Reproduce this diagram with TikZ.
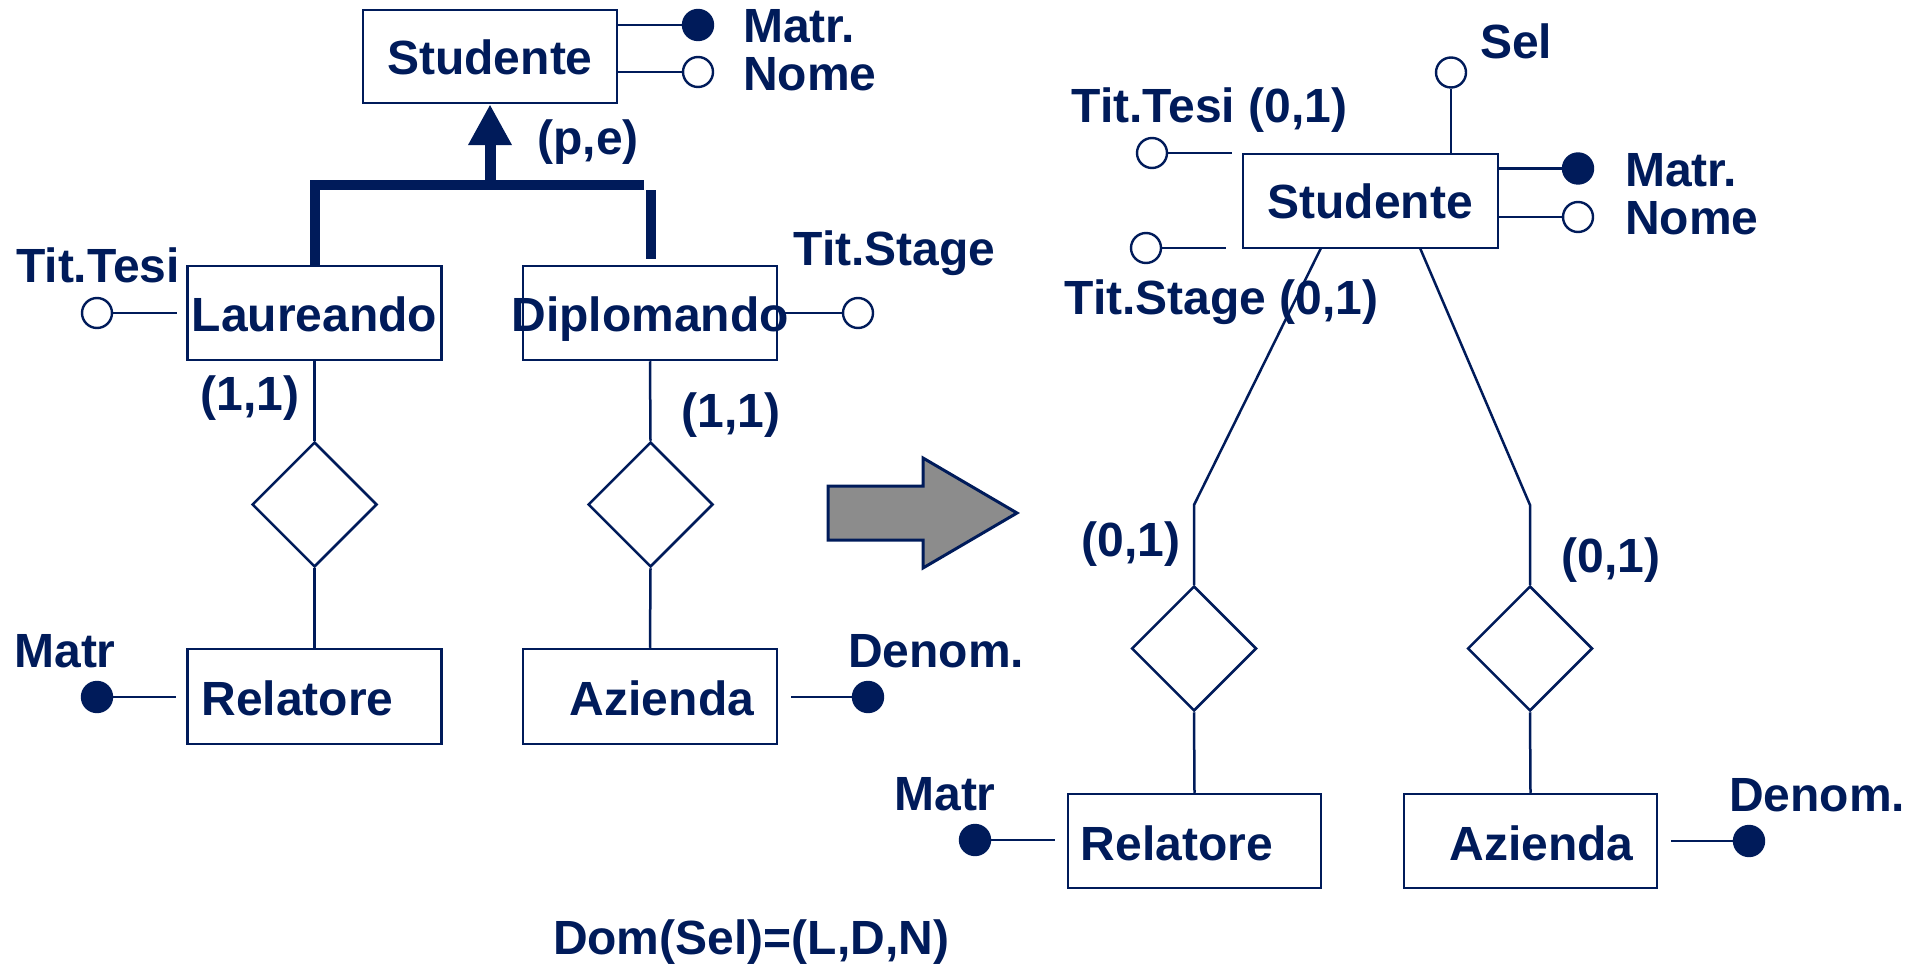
\documentclass[tikz,border=0pt]{standalone}
\usepackage{fontspec}
\setmainfont{Liberation Sans}
\usetikzlibrary{shapes.geometric,arrows.meta}
\definecolor{navy}{RGB}{0,27,90}
\definecolor{arrowgray}{RGB}{140,140,140}
\begin{document}
\begin{tikzpicture}[x=1pt,y=-1pt,
  ebox/.style={draw=navy, line width=2.5pt, rectangle, inner sep=0pt},
  rel/.style={draw=navy, line width=2.5pt, diamond, inner sep=0pt, minimum width=125pt, minimum height=125pt},
  lbl/.style={text=navy, font=\fontsize{48}{53}\selectfont\bfseries, inner sep=0pt, anchor=base},
  lblw/.style={lbl, anchor=base west},
  conn/.style={draw=navy, line width=2.5pt},
  attr/.style={circle, draw=navy, line width=2.4pt, minimum size=30pt, inner sep=0pt, fill=white},
  key/.style={attr, fill=navy},
  isa/.style={draw=navy, line width=10pt},
]
\useasboundingbox (0,0) rectangle (1924,965);

% ---------------- left schema ----------------
\node[ebox, minimum width=254pt, minimum height=93pt] (studL) at (490,56.5) {};
\node[ebox, minimum width=254pt, minimum height=94pt] (laur) at (314.5,313) {};
\node[ebox, minimum width=254pt, minimum height=94pt] (dipl) at (650,313) {};
\node[rel] (rL1) at (314.5,504.5) {};
\node[rel] (rL2) at (650.5,504.5) {};
\node[ebox, minimum width=254pt, minimum height=95pt] (relatL) at (314.5,696.5) {};
\node[ebox, minimum width=254pt, minimum height=95pt] (aziL) at (650,696.5) {};

\node[key]  (matrL)  at (698,25) {};
\node[attr] (nomeL)  at (698,72) {};
\node[attr] (tesiL)  at (97,313) {};
\node[attr] (stageL) at (858,313) {};
\node[key]  (matrRelL) at (97,697) {};
\node[key]  (denomL) at (868,697) {};

\draw[conn] (studL.east |- matrL) -- (matrL.west);
\draw[conn] (studL.east |- nomeL) -- (nomeL.west);
\coordinate (tesiLend) at (177,313);
\draw[conn] (tesiL.east) -- (tesiLend);
\coordinate (stageLbeg) at (784,313);
\draw[conn] (stageLbeg) -- (stageL.west);
\coordinate (matrLend) at (176,697);
\draw[conn] (matrRelL.east) -- (matrLend);
\coordinate (denomLbeg) at (791,697);
\draw[conn] (denomLbeg) -- (denomL.west);

\draw[conn] (laur.south) -- (rL1.north);
\draw[conn] (rL1.south) -- (relatL.north);
\draw[conn] (dipl.south) -- (rL2.north);
\draw[conn] (rL2.south) -- (aziL.north);

% generalization
\coordinate (isaL) at (315,185);
\coordinate (isaR) at (644,185);
\coordinate (isaM) at (490,185);
\coordinate (isaRt) at (650.5,190);
\coordinate (laurTop) at (315,266);
\coordinate (diplTop) at (650.5,259);
\draw[isa, line join=miter] (laurTop) -- (isaL) -- (isaR);
\draw[isa] (diplTop) -- (isaRt);
\draw[draw=navy, line width=11pt, -{Triangle[width=41pt,length=41pt]}] (isaM) -- (studL.south);

\node[lbl] (tStudL) at (490,75) {Studente};
\node[lblw] (tMatrL) at (743,43) {Matr.};
\node[lblw] (tNomeL) at (743,91) {Nome};
\node[lbl] (tPE) at (588,155) {(p,e)};
\node[lbl] (tTesiL) at (98,283) {Tit.Tesi};
\node[lbl] (tLaur) at (314.5,332) {Laureando};
\node[lbl] (tDipl) at (650,332) {Diplomando};
\node[lbl] (tStageL) at (894.5,266) {Tit.Stage};
\node[lbl] (tC1) at (250,410) {(1,1)};
\node[lbl] (tC2) at (731,427) {(1,1)};
\node[lbl] (tRelL) at (297.5,715) {Relatore};
\node[lbl] (tAziL) at (662,715) {Azienda};
\node[lbl] (tMatrRL) at (65,667) {Matr};
\node[lbl] (tDenomL) at (936,667) {Denom.};
\node[lbl] (tDom) at (751,954) {Dom(Sel)=(L,D,N)};

% ---------------- transformation arrow ----------------
\draw[navy, line width=3pt, fill=arrowgray, line join=miter]
  (828,486) -- (923,486) -- (923,458) -- (1017,513) -- (923,568) -- (923,540) -- (828,540) -- cycle;

% ---------------- right schema ----------------
\node[ebox, minimum width=255pt, minimum height=94pt] (studR) at (1370.5,201) {};
\node[rel] (rR1) at (1194,648.5) {};
\node[rel] (rR2) at (1530,648.5) {};
\node[ebox, minimum width=253pt, minimum height=94pt] (relatR) at (1194.5,841) {};
\node[ebox, minimum width=253pt, minimum height=94pt] (aziR) at (1530.5,841) {};

\node[attr] (selR)   at (1451,72.5) {};
\node[attr] (tesiR)  at (1152,153) {};
\node[attr] (stageR) at (1146,248) {};
\node[key]  (matrR)  at (1578,168.5) {};
\node[attr] (nomeR)  at (1578,217) {};
\node[key]  (matrRelR) at (975,840) {};
\node[key]  (denomR) at (1749,841) {};

\draw[conn] (selR.south) -- (selR |- studR.north);
\coordinate (tesiRend) at (1232,153);
\draw[conn] (tesiR.east) -- (tesiRend);
\coordinate (stageRend) at (1226,248);
\draw[conn] (stageR.east) -- (stageRend);
\draw[conn] (studR.east |- matrR) -- (matrR.west);
\draw[conn] (studR.east |- nomeR) -- (nomeR.west);
\coordinate (matrRend) at (1055,840);
\draw[conn] (matrRelR.east) -- (matrRend);
\coordinate (denomRbeg) at (1671,841);
\draw[conn] (denomRbeg) -- (denomR.west);

\coordinate (sL) at (1321,248);
\coordinate (sR) at (1420,248);
\coordinate (bendL) at (1194,505);
\coordinate (bendR) at (1530,505);
\draw[conn] (sL) -- (bendL) -- (rR1.north);
\draw[conn] (sR) -- (bendR) -- (rR2.north);
\draw[conn] (rR1.south) -- (relatR.north);
\draw[conn] (rR2.south) -- (aziR.north);

\node[lbl] (tStudR) at (1370,219) {Studente};
\node[lblw] (tSel) at (1480,59) {Sel};
\node[lbl] (tTesiR) at (1209.5,123) {Tit.Tesi (0,1)};
\node[lbl] (tStageR) at (1221.5,315) {Tit.Stage (0,1)};
\node[lblw] (tMatrR) at (1625,187) {Matr.};
\node[lblw] (tNomeR) at (1625,235) {Nome};
\node[lbl] (tC3) at (1131,556) {(0,1)};
\node[lbl] (tC4) at (1611,572) {(0,1)};
\node[lbl] (tRelR) at (1177,860) {Relatore};
\node[lbl] (tAziR) at (1541.5,860) {Azienda};
\node[lbl] (tMatrRR) at (945,810) {Matr};
\node[lbl] (tDenomR) at (1817,811) {Denom.};
\end{tikzpicture}
\end{document}
